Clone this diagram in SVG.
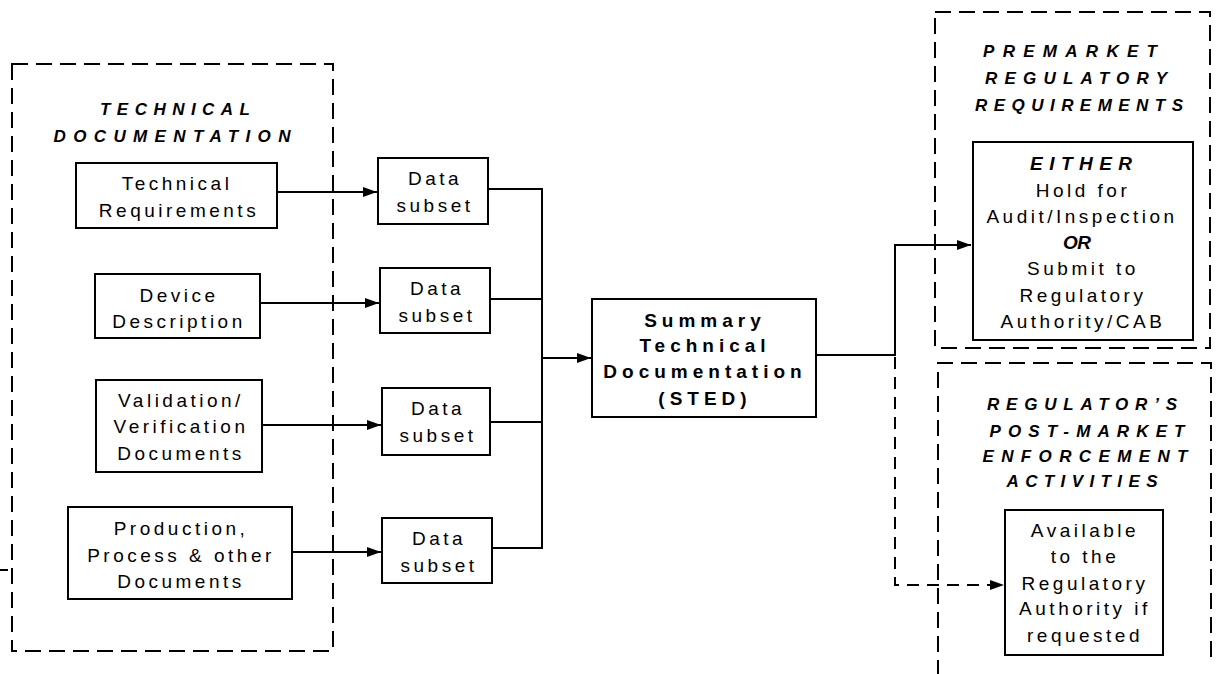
<svg xmlns="http://www.w3.org/2000/svg" width="1218" height="674" viewBox="0 0 1218 674">
<defs>
<marker id="arr" viewBox="0 0 14 10" refX="14" refY="5" markerWidth="14" markerHeight="10" markerUnits="userSpaceOnUse" orient="auto">
<path d="M0,0 L14,5 L0,10 Z" fill="#000"/>
</marker>
<style>
.box{fill:#fff;stroke:#000;stroke-width:2}
.dash{fill:none;stroke:#000;stroke-width:2;stroke-dasharray:16 8}
.ln{fill:none;stroke:#000;stroke-width:2}
.dln{fill:none;stroke:#000;stroke-width:2;stroke-dasharray:12 8}
text{font-family:"Liberation Sans",Arial,sans-serif;fill:#000;text-anchor:middle}
.t{font-size:19px;letter-spacing:3.5px}
.b{font-size:19px;font-weight:bold;letter-spacing:5px}
.h{font-size:17px;font-weight:bold;font-style:italic}
.hb{font-size:19px;font-weight:bold;font-style:italic}
</style>
</defs>
<rect width="1218" height="674" fill="#fff"/>

<g id="tech-doc-group">
<rect class="dash" x="12" y="64" width="321" height="587"/>
<text class="h" x="175" y="115" textLength="150" lengthAdjust="spacing">TECHNICAL</text>
<text class="h" x="172" y="142" textLength="237" lengthAdjust="spacing">DOCUMENTATION</text>
</g>
<g id="tech-req">
<rect class="box" x="76" y="163" width="201" height="65"/>
<text class="t" x="177" y="190">Technical</text>
<text class="t" x="179" y="217">Requirements</text>
</g>
<g id="device-desc">
<rect class="box" x="95" y="274" width="165" height="64"/>
<text class="t" x="179" y="302">Device</text>
<text class="t" x="179" y="328">Description</text>
</g>
<g id="validation">
<rect class="box" x="96" y="380" width="166" height="92"/>
<text class="t" x="181" y="407">Validation/</text>
<text class="t" x="181" y="433">Verification</text>
<text class="t" x="181" y="460">Documents</text>
</g>
<g id="production">
<rect class="box" x="68" y="507" width="224" height="92"/>
<text class="t" x="181" y="535">Production,</text>
<text class="t" x="181" y="562">Process &amp; other</text>
<text class="t" x="181" y="588">Documents</text>
</g>

<g id="subset1">
<rect class="box" x="378" y="158" width="110" height="66"/>
<text class="t" x="435" y="185">Data</text>
<text class="t" x="435" y="212">subset</text>
</g>
<g id="subset2">
<rect class="box" x="380" y="268" width="110" height="65"/>
<text class="t" x="437" y="295">Data</text>
<text class="t" x="437" y="322">subset</text>
</g>
<g id="subset3">
<rect class="box" x="382" y="388" width="108" height="67"/>
<text class="t" x="438" y="415">Data</text>
<text class="t" x="438" y="442">subset</text>
</g>
<g id="subset4">
<rect class="box" x="382" y="518" width="110" height="65"/>
<text class="t" x="439" y="545">Data</text>
<text class="t" x="439" y="572">subset</text>
</g>

<g id="sted">
<rect class="box" x="592" y="299" width="224" height="118"/>
<text class="b" x="705" y="327">Summary</text>
<text class="b" x="705" y="352">Technical</text>
<text class="b" x="705" y="378">Documentation</text>
<text class="b" x="705" y="405">(STED)</text>
</g>

<g id="premarket-group">
<rect class="dash" x="935" y="12" width="275" height="336"/>
<text class="h" x="1070" y="57" textLength="174" lengthAdjust="spacing">PREMARKET</text>
<text class="h" x="1076" y="84" textLength="182" lengthAdjust="spacing">REGULATORY</text>
<text class="h" x="1079" y="111" textLength="208" lengthAdjust="spacing">REQUIREMENTS</text>
</g>
<g id="either">
<rect class="box" x="973" y="142" width="220" height="198"/>
<text class="hb" x="1081" y="170" textLength="102" lengthAdjust="spacing">EITHER</text>
<text class="t" x="1083" y="197">Hold for</text>
<text class="t" x="1082" y="223">Audit/Inspection</text>
<text class="hb" x="1077" y="249" textLength="28" lengthAdjust="spacing">OR</text>
<text class="t" x="1083" y="275">Submit to</text>
<text class="t" x="1083" y="302">Regulatory</text>
<text class="t" x="1083" y="328">Authority/CAB</text>
</g>

<g id="postmarket-group">
<path class="dash" d="M938,676 L938,363 L1211,363 L1211,664"/>
<text class="h" x="1082" y="410" textLength="190" lengthAdjust="spacing">REGULATOR’S</text>
<text class="h" x="1087" y="437" textLength="195" lengthAdjust="spacing">POST-MARKET</text>
<text class="h" x="1085" y="462" textLength="205" lengthAdjust="spacing">ENFORCEMENT</text>
<text class="h" x="1082" y="487" textLength="151" lengthAdjust="spacing">ACTIVITIES</text>
</g>
<g id="available">
<rect class="box" x="1005" y="510" width="158" height="145"/>
<text class="t" x="1085" y="537">Available</text>
<text class="t" x="1085" y="563">to the</text>
<text class="t" x="1085" y="590">Regulatory</text>
<text class="t" x="1085" y="615">Authority if</text>
<text class="t" x="1085" y="642">requested</text>
</g>

<g id="connectors">
<line class="ln" x1="277" y1="192" x2="377" y2="192" marker-end="url(#arr)"/>
<line class="ln" x1="260" y1="303" x2="379" y2="303" marker-end="url(#arr)"/>
<line class="ln" x1="262" y1="425" x2="381" y2="425" marker-end="url(#arr)"/>
<line class="ln" x1="292" y1="552" x2="381" y2="552" marker-end="url(#arr)"/>
<path class="ln" d="M488,189 H542 M490,299 H542 M490,422 H542 M492,548 H542 M542,188 V549"/>
<line class="ln" x1="542" y1="358" x2="591" y2="358" marker-end="url(#arr)"/>
<path class="ln" d="M816,355 H895 V245 H971" marker-end="url(#arr)"/>
<path class="dln" d="M895,357 V585 H1004" marker-end="url(#arr)"/>
<line class="ln" x1="0" y1="570" x2="8" y2="570"/>
</g>
</svg>
